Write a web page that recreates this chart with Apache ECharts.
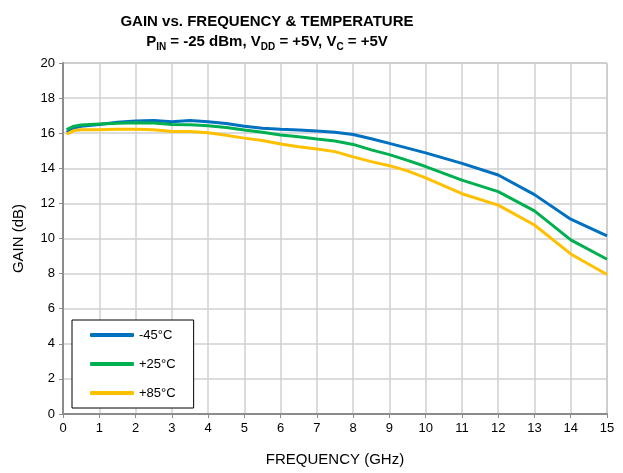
<!DOCTYPE html>
<html lang="en">
<head>
  <meta charset="UTF-8">
  <title>Gain vs Frequency</title>
  <style>
    html, body { margin: 0; padding: 0; background: #fff; }
    #chart { width: 623px; height: 473px; }
  </style>
</head>
<body>
  <div id="chart"></div>
<script src="https://cdn.jsdelivr.net/npm/echarts@6/dist/echarts.min.js"></script>
<script type="text/javascript">
  // frequency points (GHz)
  var freq = [0.1, 0.3, 0.5, 1, 1.5, 2, 2.5, 3, 3.5, 4, 4.5, 5, 5.5, 6, 6.5, 7, 7.5, 8, 8.5, 9, 9.5, 10, 11, 12, 13, 14, 15];
  // gain (dB) per temperature
  var gainM45 = [16.05, 16.3, 16.4, 16.5, 16.62, 16.7, 16.72, 16.65, 16.72, 16.65, 16.55, 16.4, 16.28, 16.22, 16.18, 16.12, 16.05, 15.93, 15.68, 15.42, 15.15, 14.88, 14.28, 13.62, 12.5, 11.1, 10.15];
  var gainP25 = [16.2, 16.4, 16.47, 16.52, 16.57, 16.6, 16.58, 16.5, 16.48, 16.43, 16.33, 16.18, 16.05, 15.9, 15.8, 15.67, 15.55, 15.36, 15.05, 14.78, 14.45, 14.1, 13.33, 12.67, 11.57, 9.92, 8.82];
  var gainP85 = [15.95, 16.15, 16.2, 16.2, 16.23, 16.23, 16.2, 16.1, 16.1, 16.02, 15.88, 15.72, 15.58, 15.38, 15.23, 15.1, 14.95, 14.65, 14.38, 14.15, 13.85, 13.45, 12.55, 11.9, 10.77, 9.12, 7.95];
  var seriesNames = ['-45°C', '+25°C', '+85°C'];
  var seriesColors = ['#0070C0', '#00B050', '#FFC000'];

  function pairs(ys) {
    var out = [];
    for (var i = 0; i < freq.length; i++) out.push([freq[i], ys[i]]);
    return out;
  }

  var chart = echarts.init(document.getElementById('chart'));
  var font = 'Liberation Sans, Arial, sans-serif';

  var option = {
    animation: false,
    backgroundColor: '#fff',
    title: {
      left: 262,
      textAlign: 'center',
      top: 7,
      text: '{b|GAIN vs. FREQUENCY & TEMPERATURE}\n{b|P}{s|IN}{b| = -25 dBm, V}{s|DD}{b| = +5V, V}{s|C}{b| = +5V}',
      textStyle: {
        fontFamily: font,
        rich: {
          b: { fontFamily: font, fontSize: 15, fontWeight: 'bold', color: '#000', lineHeight: 20 },
          s: { fontFamily: font, fontSize: 10, fontWeight: 'bold', color: '#000', lineHeight: 20, verticalAlign: 'bottom', padding: [8, 0, 0, 0] }
        }
      }
    },
    grid: {
      left: 63, top: 63, right: 16, bottom: 59,
      show: true,
      borderColor: '#8c8c8c',
      borderWidth: 1
    },
    legend: {
      orient: 'vertical',
      left: 72,
      top: 320,
      data: seriesNames,
      icon: 'roundRect',
      itemWidth: 44,
      itemHeight: 4,
      itemGap: 15,
      padding: [8, 18, 8, 18],
      backgroundColor: '#fff',
      borderColor: '#000',
      borderWidth: 1,
      borderRadius: 0,
      textStyle: { fontFamily: font, fontSize: 13, color: '#000', lineHeight: 14 }
    },
    xAxis: {
      type: 'value',
      min: 0, max: 15, interval: 1,
      name: 'FREQUENCY (GHz)',
      nameLocation: 'middle',
      nameGap: 38,
      nameTextStyle: { fontFamily: font, fontSize: 15, color: '#000' },
      axisLine: { lineStyle: { color: '#8c8c8c', width: 2 } },
      axisTick: { show: true, length: 4, lineStyle: { color: '#8c8c8c', width: 1 } },
      axisLabel: { fontFamily: font, fontSize: 13, color: '#000', margin: 8 },
      splitLine: { show: true, lineStyle: { color: '#d0d0d0', width: 1.5 } }
    },
    yAxis: {
      type: 'value',
      min: 0, max: 20, interval: 2,
      name: 'GAIN (dB)',
      nameLocation: 'middle',
      nameGap: 37,
      nameRotate: 90,
      nameTextStyle: { fontFamily: font, fontSize: 15, color: '#000' },
      axisLine: { show: true, lineStyle: { color: '#8c8c8c', width: 2 } },
      axisTick: { show: true, length: 4, lineStyle: { color: '#8c8c8c', width: 1 } },
      axisLabel: { fontFamily: font, fontSize: 13, color: '#000', margin: 8 },
      splitLine: { show: true, lineStyle: { color: '#d0d0d0', width: 1.5 } }
    },
    series: [
      { name: seriesNames[0], type: 'line', data: pairs(gainM45), showSymbol: false, lineStyle: { width: 3, color: seriesColors[0] }, itemStyle: { color: seriesColors[0] } },
      { name: seriesNames[1], type: 'line', data: pairs(gainP25), showSymbol: false, lineStyle: { width: 3, color: seriesColors[1] }, itemStyle: { color: seriesColors[1] } },
      { name: seriesNames[2], type: 'line', data: pairs(gainP85), showSymbol: false, lineStyle: { width: 3, color: seriesColors[2] }, itemStyle: { color: seriesColors[2] } }
    ]
  };
  chart.setOption(option);
</script>
</body>
</html>
